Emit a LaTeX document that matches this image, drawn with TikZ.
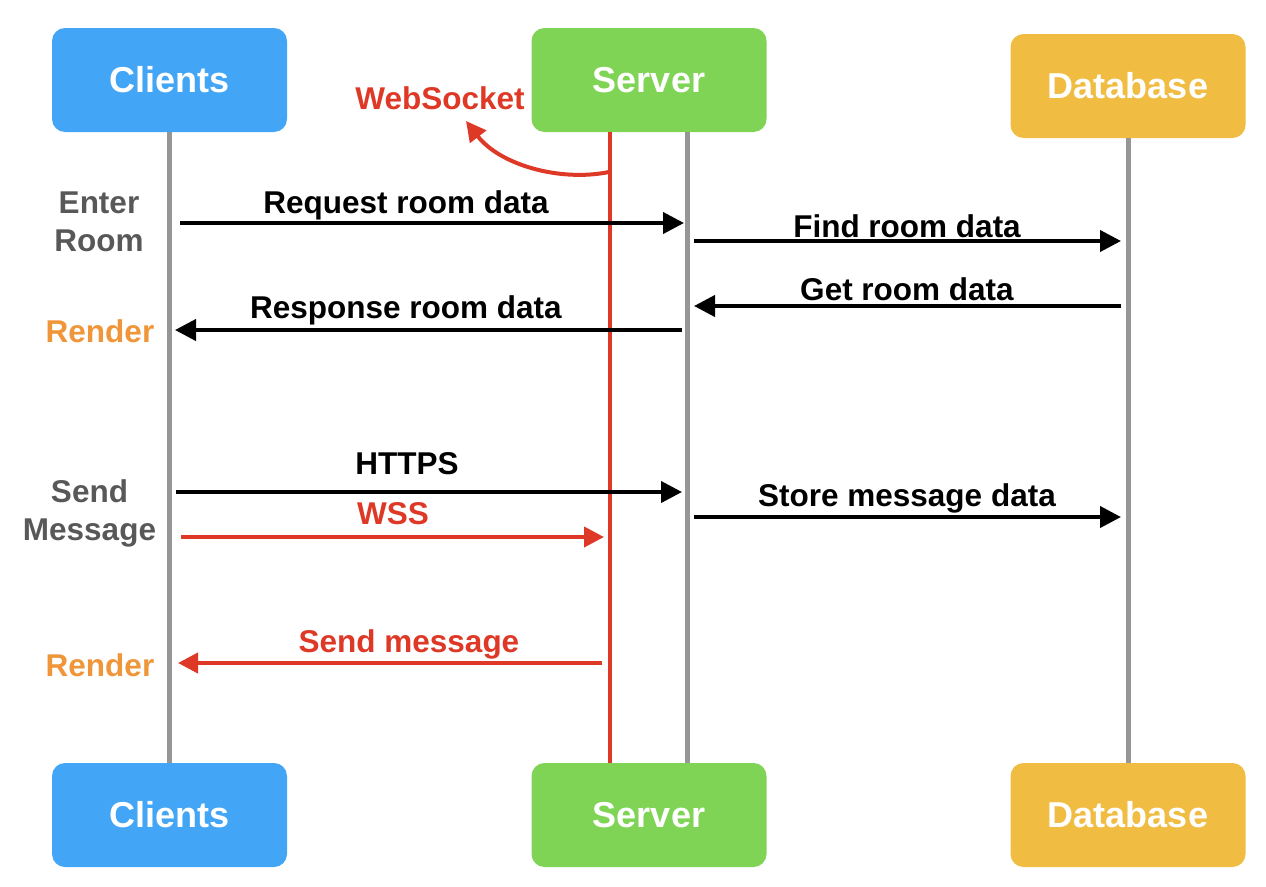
\documentclass[tikz,border=0pt]{standalone}
\usepackage{fontspec}
\setmainfont{Liberation Sans}
\usetikzlibrary{arrows.meta}
\definecolor{cblue}{RGB}{66,165,245}
\definecolor{cgreen}{RGB}{127,212,85}
\definecolor{cyellow}{RGB}{240,188,66}
\definecolor{cred}{RGB}{222,56,38}
\definecolor{corange}{RGB}{240,150,58}
\definecolor{cgraytext}{RGB}{88,88,88}
\definecolor{clife}{RGB}{150,150,150}
\tikzset{
  actor/.style={rounded corners=13pt, minimum width=235pt, minimum height=104pt,
    text=white, font=\bfseries\fontsize{36}{40}\selectfont, inner sep=0pt},
  life/.style={draw=clife, line width=5pt},
  msg/.style={draw=black, line width=4pt, -{Triangle[length=21pt,width=21pt]}},
  redmsg/.style={draw=cred, line width=4pt, -{Triangle[length=20pt,width=20pt]}},
  lbl/.style={font=\bfseries\fontsize{31.5}{36}\selectfont, anchor=base, inner sep=0pt},
  side/.style={font=\bfseries\fontsize{31.5}{38}\selectfont, align=center, inner sep=0pt},
}
\begin{document}
\begin{tikzpicture}[x=1pt,y=-1pt]
\useasboundingbox (0,0) rectangle (1266,886);
% actors top
\node[actor, fill=cblue]   (ct) at (169.5,80) {Clients};
\node[actor, fill=cgreen]  (st) at (649,80)   {Server};
\node[actor, fill=cyellow] (dt) at (1128,86)  {Database};
% actors bottom
\node[actor, fill=cblue]   (cb) at (169.5,815) {Clients};
\node[actor, fill=cgreen]  (sb) at (649,815)   {Server};
\node[actor, fill=cyellow] (db) at (1128,815)  {Database};
% lifelines
\coordinate (sl1) at (687,132);
\coordinate (sl2) at (687,763);
\coordinate (rl1) at (610,132);
\coordinate (rl2) at (610,763);
\draw[life] (ct.south) -- (cb.north);
\draw[life] (sl1) -- (sl2);
\draw[life] (dt.south) -- (db.north);
\draw[draw=cred, line width=3.5pt] (rl1) -- (rl2);
% websocket label and curved arrow
\node[lbl, text=cred] (ws) at (440,109) {WebSocket};
\coordinate (wsa) at (609,172);
\coordinate (wsb) at (466,121);
\draw[redmsg] (wsa) .. controls (560,182) and (500,165) .. (wsb);
% coordinates for messages
\coordinate (a1) at (180,223);  \coordinate (a2) at (684,223);
\coordinate (b1) at (694,241);  \coordinate (b2) at (1121,241);
\coordinate (c1) at (1121,306); \coordinate (c2) at (694,306);
\coordinate (d1) at (682,330);  \coordinate (d2) at (175,330);
\coordinate (e1) at (176,492);  \coordinate (e2) at (682,492);
\coordinate (f1) at (694,517);  \coordinate (f2) at (1121,517);
\coordinate (g1) at (181,537);  \coordinate (g2) at (604,537);
\coordinate (h1) at (602,663);  \coordinate (h2) at (178,663);
\draw[msg] (a1) -- (a2);
\draw[msg] (b1) -- (b2);
\draw[msg] (c1) -- (c2);
\draw[msg] (d1) -- (d2);
\draw[msg] (e1) -- (e2);
\draw[msg] (f1) -- (f2);
\draw[redmsg] (g1) -- (g2);
\draw[redmsg] (h1) -- (h2);
% message labels
\node[lbl] (la) at (406,213) {Request room data};
\node[lbl] (lb) at (907,237) {Find room data};
\node[lbl] (lc) at (907,300) {Get room data};
\node[lbl] (ld) at (406,318) {Response room data};
\node[lbl] (le) at (407,474) {HTTPS};
\node[lbl] (lf) at (907,506) {Store message data};
\node[lbl, text=cred] (lg) at (393,524) {WSS};
\node[lbl, text=cred] (lh) at (409,652) {Send message};
% side labels
\node[side, text=cgraytext] (s1) at (99,222) {Enter\\Room};
\node[lbl, text=corange] (s2) at (100,342) {Render};
\node[side, text=cgraytext] (s3) at (89.5,513) {Send\\Message};
\node[lbl, text=corange] (s4) at (100,676) {Render};
\end{tikzpicture}
\end{document}
